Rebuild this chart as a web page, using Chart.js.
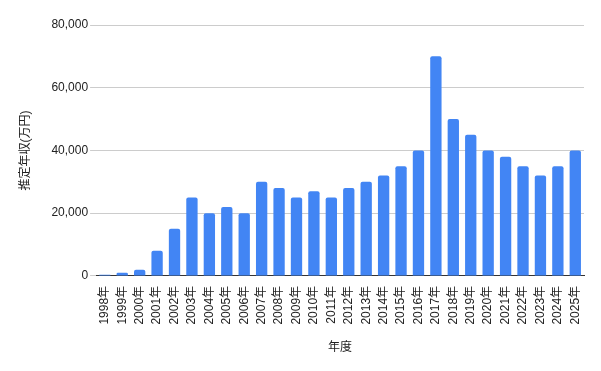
<!DOCTYPE html>
<html>
<head>
<meta charset="utf-8">
<script src="https://cdn.jsdelivr.net/npm/chart.js@4"></script>
<style>
  html, body { margin: 0; padding: 0; background: #fff; }
  #wrap { width: 601px; height: 371px; position: relative; }
</style>
</head>
<body>
<div id="wrap"><canvas id="chart"></canvas></div>
<script>
// years on the x axis
const years = ["1998年","1999年","2000年","2001年","2002年","2003年","2004年","2005年","2006年","2007年",
  "2008年","2009年","2010年","2011年","2012年","2013年","2014年","2015年","2016年","2017年",
  "2018年","2019年","2020年","2021年","2022年","2023年","2024年","2025年"];

// estimated annual income (万円)
const income = [400, 1000, 2000, 8000, 15000, 25000, 20000, 22000, 20000, 30000,
  28000, 25000, 27000, 25000, 28000, 30000, 32000, 35000, 40000, 70000,
  50000, 45000, 40000, 38000, 35000, 32000, 35000, 40000];

const yTicks = [0, 20000, 40000, 60000, 80000];

const font = "'Liberation Sans', 'Noto Sans CJK JP', sans-serif";

new Chart(document.getElementById("chart"), {
  type: "bar",
  data: {
    labels: years,
    datasets: [{
      label: "推定年収(万円)",
      data: income,
      backgroundColor: "#4285f4",
      borderRadius: { topLeft: 2, topRight: 2 },
      borderSkipped: "bottom",
      barPercentage: 0.65,
      categoryPercentage: 1.0
    }]
  },
  options: {
    responsive: true,
    maintainAspectRatio: false,
    animation: false,
    layout: { padding: { left: 14, right: 17, top: 25, bottom: 12 } },
    plugins: {
      legend: { display: false },
      tooltip: { enabled: false }
    },
    scales: {
      x: {
        grid: { display: false },
        border: { display: true, color: "#333333", width: 1 },
        ticks: {
          color: "#222222",
          font: { family: font, size: 12 },
          minRotation: 90,
          maxRotation: 90,
          autoSkip: false,
          padding: 2
        },
        title: {
          display: true,
          text: "年度",
          color: "#222222",
          font: { family: font, size: 12 },
          padding: { top: 14 }
        }
      },
      y: {
        min: 0,
        max: 80000,
        afterBuildTicks: axis => { axis.ticks = yTicks.map(v => ({ value: v })); },
        border: { display: false },
        grid: {
          color: "#cccccc",
          tickColor: "#cccccc",
          tickLength: 6,
          drawTicks: true
        },
        ticks: {
          color: "#222222",
          font: { family: font, size: 12 },
          padding: 2,
          callback: v => v.toLocaleString("en-US")
        },
        title: {
          display: true,
          text: "推定年収(万円)",
          color: "#222222",
          font: { family: font, size: 12 },
          padding: { bottom: 17 }
        }
      }
    }
  }
});
</script>
</body>
</html>
